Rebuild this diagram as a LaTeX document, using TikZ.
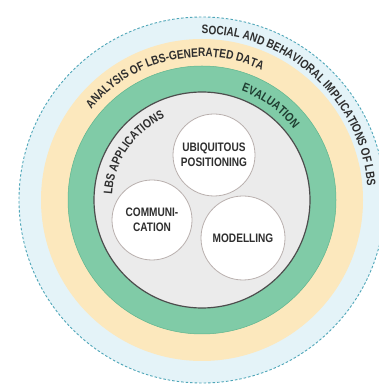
\documentclass[tikz,border=0pt]{standalone}
\usepackage{fontspec}
\newfontfamily\lbsfont{Liberation Sans}[FakeStretch=0.82]
\usetikzlibrary{decorations.text}
\definecolor{ringblue}{HTML}{E4F3F8}
\definecolor{dashblue}{HTML}{4EA6B8}
\definecolor{ringyellow}{HTML}{FCE8BD}
\definecolor{ringgreen}{HTML}{80CBA7}
\definecolor{edgegreen}{HTML}{5DB58F}
\definecolor{coregray}{HTML}{EBEBEB}
\definecolor{coreedge}{HTML}{4D4D4D}
\definecolor{bubbleedge}{HTML}{B9B0AE}
\definecolor{txt}{HTML}{2E2E2E}
\definecolor{txtgreen}{HTML}{1F3D31}
\newcommand{\lbsstyle}{\lbsfont\bfseries\fontsize{12.3}{15}\selectfont}
\tikzset{
  bubble/.style={circle, fill=white, draw=bubbleedge, line width=0.8pt,
    align=center, text=txt, inner sep=0pt, font=\lbsstyle},
  arctext/.style={decorate, decoration={text along path, text align=center,
    text color=#1}},
}
\begin{document}
\begin{tikzpicture}[x=1pt,y=1pt]
\useasboundingbox (0,0) rectangle (379,385);
\fill[white] (0,0) rectangle (379,385);
\coordinate (C) at (202,185);
% rings
\begin{scope}
\clip (0,0) rectangle (379,385);
\fill[ringblue] (C) circle[radius=183];
\draw[dashblue, line width=0.9pt, dash pattern=on 2.5pt off 2pt] (C) circle[radius=183];
\end{scope}
\fill[ringyellow] (C) circle[radius=161];
\fill[ringgreen] (C) circle[radius=134];
\draw[edgegreen, line width=0.5pt] (C) circle[radius=134];
\fill[coregray] (C) circle[radius=108];
\draw[coreedge, line width=1.2pt] (C) circle[radius=108];
% curved labels
\path[arctext=txt, decoration={text={|\lbsstyle|SOCIAL AND BEHAVIORAL IMPLICATIONS OF LBS}}]
  (C) ++(110:166) arc[start angle=110, end angle=-15, radius=166];
\path[arctext=txt, decoration={text={|\lbsstyle|ANALYSIS OF LBS-GENERATED DATA}}]
  (C) ++(160:143) arc[start angle=160, end angle=46, radius=143];
\path[arctext=txtgreen, decoration={text={|\lbsstyle|EVALUATION}}]
  (C) ++(80:116) arc[start angle=80, end angle=28, radius=116];
\path[arctext=txt, decoration={text={|\lbsstyle|LBS APPLICATIONS}}]
  (C) ++(180:90) arc[start angle=180, end angle=111, radius=90];
% bubbles
\node[bubble, minimum size=82pt] (ubi) at (214,230) {UBIQUITOUS\\POSITIONING};
\node[bubble, minimum size=80pt] (comm) at (152,165) {COMMUNI-\\CATION};
\node[bubble, minimum size=84pt] (mod) at (243,147) {MODELLING};
\end{tikzpicture}
\end{document}
